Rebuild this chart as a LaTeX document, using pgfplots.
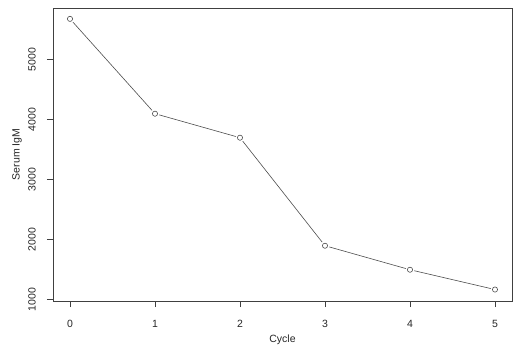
\documentclass[border=0pt]{standalone}
\usepackage{fontspec}
\setmainfont{Liberation Sans}
\usepackage{pgfplots}
\usepackage{pgfplotstable}
\pgfplotsset{compat=1.18}
\pgfplotstableread{
cycle igm
0 5680
1 4100
2 3700
3 1900
4 1500
5 1170
}\igmdata
\begin{document}
\begin{tikzpicture}
\useasboundingbox (-53bp,-50bp) rectangle (467bp,301bp);
\begin{axis}[
  at={(0,0)}, anchor=south west,
  scale only axis, width=459bp, height=293bp,
  xmin=-0.2, xmax=5.2, ymin=979, ymax=5861,
  xtick={0,1,2,3,4,5}, ytick={1000,2000,3000,4000,5000},
  xtick pos=bottom, ytick pos=left,
  tick align=outside, major tick length=6bp,
  every tick/.style={black!75, line width=0.6pt},
  axis line style={black!75, line width=0.6pt},
  /pgf/number format/assume math mode=true,
  /pgf/number format/1000 sep={},
  tick label style={font=\fontsize{10.5bp}{12bp}\selectfont, black!85},
  xticklabel style={anchor=center, inner sep=0pt, yshift=-17bp},
  yticklabel style={rotate=90, anchor=center, inner sep=0pt, yshift=15bp},
  label style={font=\fontsize{10.5bp}{12bp}\selectfont, black!85},
  xlabel={Cycle}, ylabel={Serum IgM},
  xlabel style={at={(axis description cs:0.5,-0.133)}, anchor=center, inner sep=0pt},
  ylabel style={at={(axis description cs:-0.0784,0.5)}, anchor=center, inner sep=0pt},
]
\addplot[black!70, line width=0.6pt, mark=*, mark size=4.2bp, mark options={draw=white, fill=white}] table[x=cycle, y=igm] {\igmdata};
\addplot[only marks, black!70, mark=o, mark size=2.6bp, mark options={line width=0.6pt}] table[x=cycle, y=igm] {\igmdata};
\end{axis}
\end{tikzpicture}
\end{document}
